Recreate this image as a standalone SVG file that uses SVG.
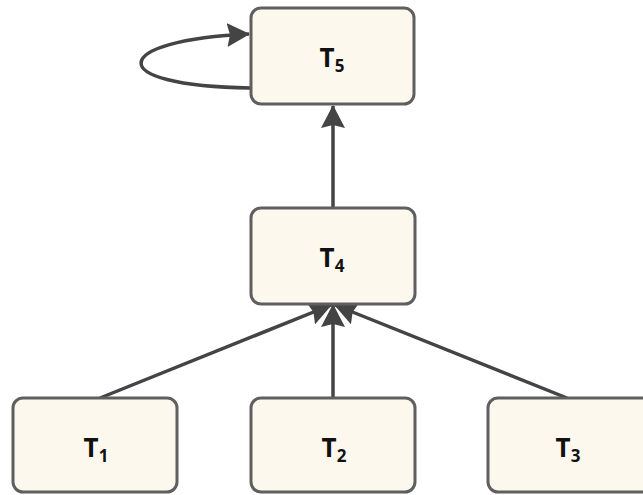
<svg xmlns="http://www.w3.org/2000/svg" width="643" height="495" viewBox="0 0 643 495">
<style>
.node rect{fill:#fdf8ee;stroke:#5f5f5f;stroke-width:3}
.node text{font-family:"Open Sans","Liberation Sans",sans-serif;font-weight:bold;font-size:26px;fill:#111;text-anchor:middle}
.node tspan.s{font-size:17px}
.edge{fill:none;stroke:#444;stroke-width:3.5}
</style>
<defs>
<marker id="ah" viewBox="0 0 23 24" refX="22" refY="12" markerWidth="23" markerHeight="24" markerUnits="userSpaceOnUse" orient="auto">
<path d="M0,0 L23,12 L0,24 L3,12 Z" fill="#444"/>
</marker>
</defs>
<g id="connectors">
<path class="edge" d="M333,208 L333,106" marker-end="url(#ah)"/>
<path class="edge" d="M100,398 L331,305" marker-end="url(#ah)"/>
<path class="edge" d="M333,398 L333,305" marker-end="url(#ah)"/>
<path class="edge" d="M567,398 L335,305" marker-end="url(#ah)"/>
<path class="edge" d="M250,88 C100,86 110,40 249,34" marker-end="url(#ah)"/>
</g>
<g id="T5" class="node"><rect x="251" y="8" width="163" height="96" rx="10"/><text x="332" y="67">T<tspan class="s" dy="5">5</tspan></text></g>
<g id="T4" class="node"><rect x="251" y="208" width="164" height="96" rx="10"/><text x="332" y="267">T<tspan class="s" dy="5">4</tspan></text></g>
<g id="T1" class="node"><rect x="13" y="398" width="164" height="94" rx="10"/><text x="96" y="457">T<tspan class="s" dy="5">1</tspan></text></g>
<g id="T2" class="node"><rect x="251" y="398" width="164" height="94" rx="10"/><text x="334" y="457">T<tspan class="s" dy="5">2</tspan></text></g>
<g id="T3" class="node"><rect x="488" y="398" width="164" height="94" rx="10"/><text x="568" y="457">T<tspan class="s" dy="5">3</tspan></text></g>
</svg>
